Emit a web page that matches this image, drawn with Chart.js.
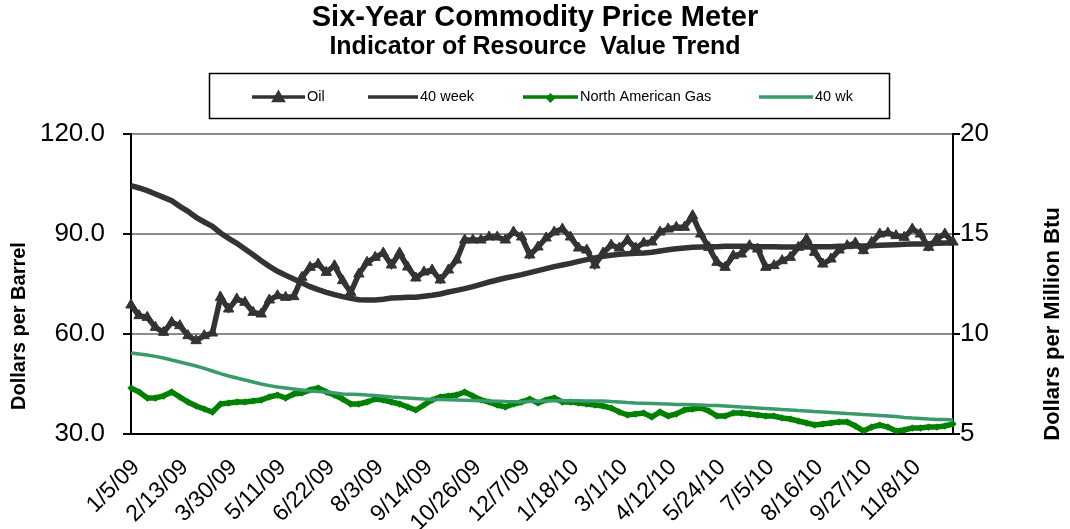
<!DOCTYPE html>
<html>
<head>
<meta charset="utf-8">
<script src="https://cdn.jsdelivr.net/npm/chart.js@4.4.0/dist/chart.umd.min.js"></script>
<style>
  html, body { margin: 0; padding: 0; background: #fff; }
</style>
</head>
<body>
<canvas id="chart" width="1070" height="529"></canvas>
<script>
// weekly data, 1/5/09 onward
const tickLabels = ['1/5/09', '2/13/09', '3/30/09', '5/11/09', '6/22/09', '8/3/09', '9/14/09', '10/26/09',
  '12/7/09', '1/18/10', '3/1/10', '4/12/10', '5/24/10', '7/5/10', '8/16/10', '9/27/10', '11/8/10'];

const oil = [68.7, 65.5, 65, 62, 60.5, 63.5, 62.5, 59.5, 58, 59.5,
  60.3, 71, 67.5, 70.5, 69.5, 66.5, 66, 70.2, 71.5, 71,
  71.2, 77, 80, 81, 78.5, 80.5, 76, 72.5, 78, 81.5,
  83, 84.3, 80.7, 84.3, 80.1, 76.8, 78.6, 79.2, 76.2, 79.2,
  82.2, 88.2, 88.2, 88.2, 89.1, 89.1, 88.2, 90.6, 89.1, 83.7,
  86.1, 88.8, 90.6, 91.5, 89.1, 85.8, 85.2, 80.7, 84.3, 86.7,
  85.8, 88.2, 85.8, 87.3, 87.6, 90.6, 91.5, 92, 92, 95.5,
  90, 86, 81.5, 80, 83.5, 84, 86.5, 85.5, 80, 80.5,
  82, 83, 86, 88.5, 84.5, 81, 82.5, 85.2, 86.5, 87.3,
  85, 87.5, 90, 90.3, 89.5, 89, 91.5, 90, 86, 88.5,
  90, 87.6];

const oil40 = [104.5, 103.8, 103, 102, 101, 100, 98.3, 96.8, 95, 93.6,
  92.3, 90.3, 88.7, 87.2, 85.5, 83.8, 82, 80.3, 78.8, 77.6,
  76.5, 75.4, 74.2, 73.3, 72.5, 71.8, 71.2, 70.7, 70.3, 70.2,
  70.2, 70.4, 70.8, 70.9, 71, 71, 71.3, 71.6, 72, 72.6,
  73.1, 73.6, 74.2, 74.9, 75.6, 76.2, 76.8, 77.3, 77.8, 78.4,
  79, 79.6, 80.2, 80.7, 81.2, 81.8, 82.3, 82.8, 83.3, 83.6,
  83.9, 84.1, 84.2, 84.3, 84.5, 84.9, 85.3, 85.6, 85.8, 86,
  86.1, 86.2, 86.2, 86.3, 86.3, 86.3, 86.3, 86.2, 86.2, 86.2,
  86.1, 86.1, 86.1, 86.1, 86.2, 86.2, 86.2, 86.3, 86.3, 86.4,
  86.4, 86.5, 86.6, 86.7, 86.8, 86.9, 87, 87, 87.1, 87.2,
  87.3, 87.4];

const gas = [7.3, 7.1, 6.8, 6.8, 6.9, 7.1, 6.85, 6.6, 6.4, 6.25,
  6.1, 6.5, 6.55, 6.6, 6.6, 6.65, 6.7, 6.85, 6.95, 6.8,
  7.0, 7.05, 7.2, 7.3, 7.1, 6.95, 6.75, 6.5, 6.5, 6.6,
  6.75, 6.7, 6.6, 6.5, 6.35, 6.2, 6.45, 6.7, 6.85, 6.9,
  6.95, 7.1, 6.9, 6.7, 6.6, 6.45, 6.35, 6.5, 6.6, 6.75,
  6.55, 6.7, 6.8, 6.6, 6.6, 6.55, 6.5, 6.45, 6.4, 6.3,
  6.1, 5.95, 6.0, 6.05, 5.85, 6.1, 5.9, 6.0, 6.2, 6.25,
  6.3, 6.15, 5.9, 5.9, 6.05, 6.05, 6.0, 5.95, 5.9, 5.9,
  5.8, 5.75, 5.65, 5.55, 5.45, 5.5, 5.55, 5.6, 5.6, 5.4,
  5.15, 5.35, 5.45, 5.35, 5.15, 5.2, 5.3, 5.3, 5.35, 5.35,
  5.4, 5.5];

const gas40 = [9.05, 9.0, 8.95, 8.88, 8.8, 8.7, 8.6, 8.5, 8.4, 8.28,
  8.15, 8.02, 7.9, 7.8, 7.7, 7.6, 7.5, 7.42, 7.35, 7.3,
  7.25, 7.2, 7.15, 7.12, 7.1, 7.05, 7.0, 6.99, 6.98, 6.95,
  6.93, 6.89, 6.85, 6.82, 6.8, 6.78, 6.75, 6.73, 6.72, 6.71,
  6.7, 6.69, 6.68, 6.66, 6.65, 6.64, 6.62, 6.61, 6.6, 6.62,
  6.64, 6.65, 6.66, 6.66, 6.66, 6.66, 6.65, 6.65, 6.65, 6.62,
  6.6, 6.57, 6.55, 6.54, 6.53, 6.51, 6.5, 6.48, 6.47, 6.46,
  6.45, 6.43, 6.42, 6.4, 6.38, 6.35, 6.33, 6.3, 6.28, 6.25,
  6.22, 6.2, 6.17, 6.15, 6.12, 6.1, 6.08, 6.05, 6.02, 6.0,
  5.97, 5.95, 5.93, 5.9, 5.87, 5.83, 5.8, 5.78, 5.75, 5.73,
  5.72, 5.7];

// one category per week, only every 6th gets a label
const categories = oil.map((v, i) => (i % 6 === 0 ? tickLabels[i / 6] : ''));

const OIL_COLOR = '#333333';
const GAS_COLOR = '#008000';
const GAS40_COLOR = '#3a9a6c';
const FONT = "'Liberation Sans', Arial, sans-serif";

Chart.defaults.font.family = FONT;
Chart.defaults.color = '#000';

const extras = {
  id: 'extras',
  beforeDraw(chart) {
    const ctx = chart.ctx;
    ctx.save();
    ctx.fillStyle = '#fff';
    ctx.fillRect(0, 0, chart.width, chart.height);
    ctx.restore();
  },
  afterDraw(chart) {
    const ctx = chart.ctx;
    ctx.save();

    // legend box
    ctx.strokeStyle = '#000';
    ctx.lineWidth = 1.5;
    ctx.strokeRect(209.5, 73.5, 680, 45);

    const ly = 97;
    const items = [
      { x0: 252, x1: 305, color: OIL_COLOR, text: 'Oil', marker: 'triangle', r: 5 },
      { x0: 368, x1: 418, color: OIL_COLOR, text: '40 week' },
      { x0: 523, x1: 578, color: GAS_COLOR, text: 'North American Gas', marker: 'rectRot', r: 2.5 },
      { x0: 759, x1: 813, color: GAS40_COLOR, text: '40 wk' }
    ];
    ctx.font = '14.5px ' + FONT;
    ctx.textBaseline = 'middle';
    items.forEach(it => {
      ctx.strokeStyle = it.color;
      ctx.lineWidth = 3.5;
      ctx.beginPath();
      ctx.moveTo(it.x0, ly);
      ctx.lineTo(it.x1, ly);
      ctx.stroke();
      if (it.marker) {
        ctx.fillStyle = it.color;
        Chart.helpers.drawPoint(ctx, { pointStyle: it.marker, radius: it.r, rotation: 0, borderWidth: 1 },
          (it.x0 + it.x1) / 2, ly + 1);
      }
      ctx.fillStyle = '#000';
      ctx.textAlign = 'left';
      ctx.fillText(it.text, it.x1 + 2, ly);
    });

    // axis titles
    ctx.font = 'bold 20px ' + FONT;
    ctx.textAlign = 'center';
    ctx.fillStyle = '#000';
    ctx.translate(19, 326);
    ctx.rotate(-Math.PI / 2);
    ctx.fillText('Dollars per Barrel', 0, 0);
    ctx.restore();

    ctx.save();
    ctx.font = 'bold 22px ' + FONT;
    ctx.textAlign = 'center';
    ctx.textBaseline = 'middle';
    ctx.fillStyle = '#000';
    ctx.translate(1053, 324);
    ctx.rotate(-Math.PI / 2);
    ctx.fillText('Dollars per Million Btu', 0, 0);
    ctx.restore();
  }
};

new Chart(document.getElementById('chart'), {
  type: 'line',
  data: {
    labels: categories,
    datasets: [
      {
        label: 'Oil',
        data: oil,
        yAxisID: 'y',
        borderColor: OIL_COLOR,
        backgroundColor: OIL_COLOR,
        borderWidth: 5.5,
        pointStyle: 'triangle',
        pointRadius: 6,
        pointBorderWidth: 1,
        order: 3
      },
      {
        label: '40 week',
        data: oil40,
        yAxisID: 'y',
        borderColor: OIL_COLOR,
        borderWidth: 5.5,
        pointRadius: 0,
        order: 2
      },
      {
        label: 'North American Gas',
        data: gas,
        yAxisID: 'y2',
        borderColor: GAS_COLOR,
        backgroundColor: GAS_COLOR,
        borderWidth: 5.5,
        pointStyle: 'rectRot',
        pointRadius: 3.2,
        pointBorderWidth: 1,
        order: 1
      },
      {
        label: '40 wk',
        data: gas40,
        yAxisID: 'y2',
        borderColor: GAS40_COLOR,
        borderWidth: 3.5,
        pointRadius: 0,
        order: 0
      }
    ]
  },
  options: {
    responsive: false,
    animation: false,
    devicePixelRatio: 1,
    layout: { padding: 0 },
    plugins: {
      legend: { display: false },
      tooltip: { enabled: false },
      title: {
        display: true,
        text: 'Six-Year Commodity Price Meter',
        color: '#000',
        font: { size: 29, weight: 'bold', lineHeight: 1.15 },
        padding: { top: 1, bottom: 0 }
      },
      subtitle: {
        display: true,
        text: 'Indicator of Resource  Value Trend',
        color: '#000',
        font: { size: 25, weight: 'bold', lineHeight: 1.0 },
        padding: { top: 0, bottom: 74.65 }
      }
    },
    scales: {
      x: {
        type: 'category',
        offset: false,
        grid: { display: false },
        border: { display: true, color: '#000', width: 2 },
        ticks: {
          autoSkip: false,
          minRotation: 45,
          maxRotation: 45,
          padding: 12,
          labelOffset: 5,
          font: { size: 23 },
          color: '#000'
        },
        afterFit(scale) { scale.height = 95; }
      },
      y: {
        position: 'left',
        min: 30,
        max: 120,
        grid: { color: '#8c8c8c', lineWidth: 2, tickLength: 8, tickColor: '#000' },
        border: { display: true, color: '#000', width: 2 },
        ticks: {
          stepSize: 30,
          padding: 18,
          font: { size: 26 },
          color: '#000',
          callback: v => v.toFixed(1)
        },
        afterFit(scale) { scale.width = 131; }
      },
      y2: {
        position: 'right',
        min: 5,
        max: 20,
        grid: { drawOnChartArea: false, tickLength: 7, tickColor: '#000', lineWidth: 2 },
        border: { display: true, color: '#000', width: 2 },
        ticks: {
          stepSize: 5,
          padding: 0,
          font: { size: 26 },
          color: '#000'
        },
        afterFit(scale) { scale.width = 117; }
      }
    }
  },
  plugins: [extras]
});
</script>
</body>
</html>
